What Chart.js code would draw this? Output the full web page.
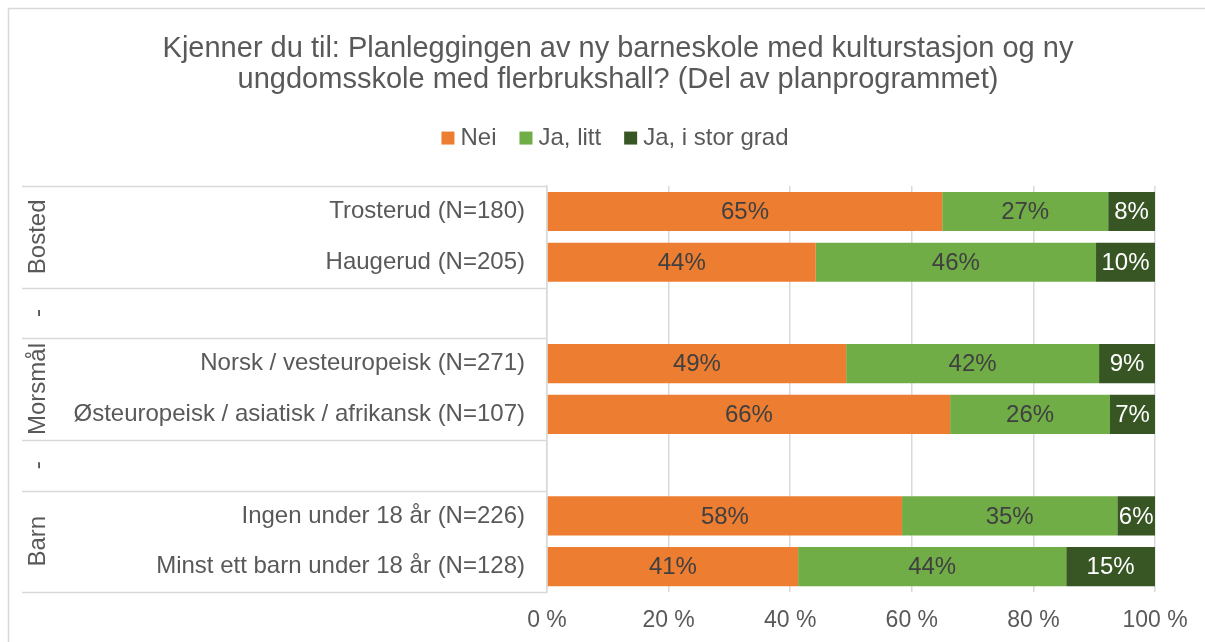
<!DOCTYPE html>
<html>
<head>
<meta charset="utf-8">
<script src="https://cdn.jsdelivr.net/npm/chart.js@4.4.1/dist/chart.umd.min.js"></script>
<style>
html,body{margin:0;padding:0;background:#fff;}
#wrap{position:relative;width:1205px;height:642px;}
</style>
</head>
<body>
<div id="wrap"><canvas id="c" width="1205" height="642"></canvas></div>
<script>
const titleLines = ['Kjenner du til: Planleggingen av ny barneskole med kulturstasjon og ny', 'ungdomsskole med flerbrukshall? (Del av planprogrammet)'];
const categories = ['Trosterud (N=180)', 'Haugerud (N=205)', '', 'Norsk / vesteuropeisk (N=271)', 'Østeuropeisk / asiatisk / afrikansk (N=107)', '', 'Ingen under 18 år (N=226)', 'Minst ett barn under 18 år (N=128)'];
const groupLabels = ['Bosted', '-', 'Morsmål', '-', 'Barn'];
const groupSizes = [2, 1, 2, 1, 2];
const seriesNames = ['Nei', 'Ja, litt', 'Ja, i stor grad'];
const nei = [65.0, 44.2, null, 49.2, 66.3, null, 58.4, 41.3];
const jaLitt = [27.3, 46.1, null, 41.6, 26.3, null, 35.4, 44.1];
const jaStor = [7.7, 9.7, null, 9.2, 7.4, null, 6.2, 14.6];
const xTicks = [0, 20, 40, 60, 80, 100];

const FONT = "'Liberation Sans', Arial, sans-serif";
const TXT = '#595959';
const GRID = '#d9d9d9';
const colors = ['#ED7D31', '#70AD47', '#375623'];
const labelColors = ['#404040', '#404040', '#ffffff'];

const framePlugin = {
  id: 'frame',
  beforeDraw(chart) {
    const ctx = chart.ctx;
    ctx.save();
    ctx.strokeStyle = GRID;
    ctx.lineWidth = 1.5;
    ctx.strokeRect(8.5, 8.5, 1400, 800);
    ctx.restore();
  }
};

const legendMargin = {
  id: 'legendMargin',
  beforeInit(chart) {
    const orig = chart.legend.fit;
    chart.legend.fit = function () {
      orig.bind(chart.legend)();
      this.height += 26;
    };
  },
  afterLayout(chart) {
    const shift = 81;
    if (chart.titleBlock) { chart.titleBlock.left += shift; }
    if (chart.legend) { chart.legend.left += shift; chart.legend.adjustHitBoxes && chart.legend.adjustHitBoxes(); }
  }
};

const groupPlugin = {
  id: 'groups',
  afterDraw(chart) {
    const ctx = chart.ctx;
    const y = chart.scales.y;
    const half = (y.getPixelForValue(1) - y.getPixelForValue(0)) / 2;
    const left = 22;
    const right = chart.chartArea.left;
    ctx.save();
    ctx.strokeStyle = GRID;
    ctx.lineWidth = 1.5;
    let idx = 0;
    const boundaries = [y.getPixelForValue(0) - half];
    groupSizes.forEach((n, g) => {
      const top = y.getPixelForValue(idx) - half;
      const bottom = y.getPixelForValue(idx + n - 1) + half;
      boundaries.push(bottom);
      const cy = (top + bottom) / 2;
      ctx.save();
      ctx.translate(38, cy);
      ctx.rotate(-Math.PI / 2);
      ctx.fillStyle = TXT;
      ctx.font = '24px ' + FONT;
      ctx.textAlign = 'center';
      ctx.textBaseline = 'middle';
      ctx.fillText(groupLabels[g], 0, 0);
      ctx.restore();
      idx += n;
    });
    boundaries.forEach(b => {
      ctx.beginPath();
      ctx.moveTo(left, Math.round(b) + 0.5);
      ctx.lineTo(right, Math.round(b) + 0.5);
      ctx.stroke();
    });
    ctx.restore();
  }
};

const valueLabels = {
  id: 'valueLabels',
  afterDatasetsDraw(chart) {
    const ctx = chart.ctx;
    ctx.save();
    ctx.font = '24px ' + FONT;
    ctx.textAlign = 'center';
    ctx.textBaseline = 'middle';
    chart.data.datasets.forEach((ds, i) => {
      const meta = chart.getDatasetMeta(i);
      meta.data.forEach((el, j) => {
        const v = ds.data[j];
        if (v == null) return;
        ctx.fillStyle = labelColors[i];
        ctx.fillText(Math.round(v) + '%', (el.x + el.base) / 2, el.y + 1);
      });
    });
    ctx.restore();
  }
};

new Chart(document.getElementById('c'), {
  type: 'bar',
  data: {
    labels: categories,
    datasets: [nei, jaLitt, jaStor].map((d, i) => ({
      label: seriesNames[i],
      data: d,
      backgroundColor: colors[i],
      borderColor: colors[i],
      borderWidth: 0,
      barPercentage: 0.77,
      categoryPercentage: 1,
      pointStyle: 'rect'
    }))
  },
  options: {
    indexAxis: 'y',
    responsive: false,
    animation: false,
    devicePixelRatio: 1,
    layout: { padding: { left: 0, right: 50, top: 0, bottom: 7 } },
    scales: {
      x: {
        stacked: true,
        min: 0,
        max: 100,
        afterBuildTicks(scale) { scale.ticks = xTicks.map(v => ({ value: v })); },
        afterFit(scale) { scale.height = 43; },
        ticks: {
          callback: v => v + ' %',
          color: TXT,
          font: { family: FONT, size: 23 },
          padding: 15
        },
        grid: { color: GRID, lineWidth: 1.5, drawTicks: false },
        border: { display: false }
      },
      y: {
        stacked: true,
        afterFit(scale) {
          scale.width = 547;
          scale.paddingTop = 0;
          scale.paddingBottom = 0;
        },
        ticks: {
          color: TXT,
          font: { family: FONT, size: 24 },
          padding: 22,
          autoSkip: false
        },
        grid: { display: false, drawTicks: false },
        border: { display: true, color: GRID, width: 1.5 }
      }
    },
    plugins: {
      title: {
        display: true,
        text: titleLines,
        color: TXT,
        font: { family: FONT, size: 29, weight: 'normal', lineHeight: 1.07 },
        padding: { top: 33, bottom: 2 }
      },
      legend: {
        position: 'top',
        labels: {
          color: TXT,
          font: { family: FONT, size: 24 },
          usePointStyle: true,
          pointStyle: 'rect',
          boxWidth: 1,
          boxHeight: 13,
          padding: 29
        }
      },
      tooltip: { enabled: false }
    }
  },
  plugins: [framePlugin, legendMargin, groupPlugin, valueLabels]
});
</script>
</body>
</html>
